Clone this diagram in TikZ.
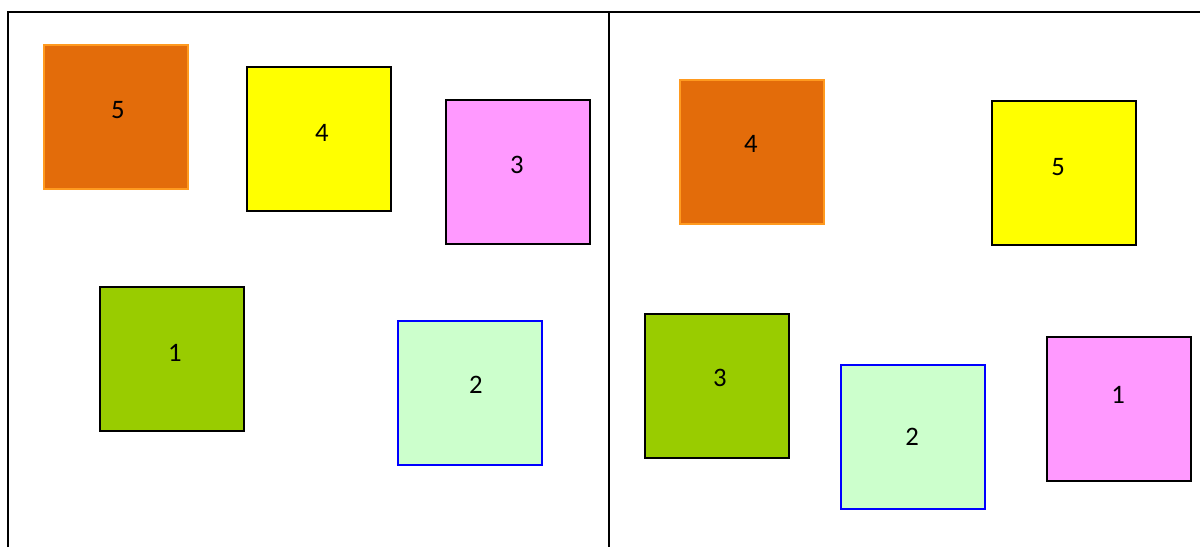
\documentclass[tikz,border=0pt]{standalone}
\usepackage{fontspec}
\setmainfont{Carlito}
\definecolor{orfill}{HTML}{E36C0A}
\definecolor{ordraw}{HTML}{FF9A1F}
\definecolor{yel}{HTML}{FFFF00}
\definecolor{pinkc}{HTML}{FF99FF}
\definecolor{grn}{HTML}{99CC00}
\definecolor{lgrn}{HTML}{CCFFCC}
\definecolor{blu}{HTML}{0000FF}
\tikzset{
  sq/.style={minimum width=108pt, minimum height=108pt, inner sep=0pt, line width=1.5pt, draw=black},
  orangebox/.style={sq, fill=orfill, draw=ordraw},
  yellowbox/.style={sq, fill=yel},
  pinkbox/.style={sq, fill=pinkc},
  greenbox/.style={sq, fill=grn},
  lgreenbox/.style={sq, fill=lgrn, draw=blu},
  num/.style={font=\fontsize{20pt}{24pt}\selectfont, inner sep=0pt},
  frame/.style={line width=1.6pt, draw=black}
}
\begin{document}
\begin{tikzpicture}[x=0.75pt,y=-0.75pt]
\useasboundingbox (0,0) rectangle (1200,547);
% frame
\coordinate (fbl) at (8,547);
\coordinate (ftl) at (8,12);
\coordinate (ftr) at (1200,12);
\coordinate (dtop) at (609,12);
\coordinate (dbot) at (609,547);
\draw[frame] (fbl) -- (ftl) -- (ftr);
\draw[frame] (dtop) -- (dbot);
% left panel
\node[orangebox] (L5) at (116,116.5) {};
\node[num] (t L5) at (118,110) {5};
\node[yellowbox] (L4) at (319,139) {};
\node[num] (t L4) at (322,133) {4};
\node[pinkbox] (L3) at (518,172) {};
\node[num] (t L3) at (517,165) {3};
\node[greenbox] (L1) at (172,359) {};
\node[num] (t L1) at (175,353) {1};
\node[lgreenbox] (L2) at (470,393) {};
\node[num] (t L2) at (476,385) {2};
% right panel
\node[orangebox] (R4) at (752,152) {};
\node[num] (t R4) at (751,144) {4};
\node[yellowbox] (R5) at (1064,173) {};
\node[num] (t R5) at (1058,167) {5};
\node[greenbox] (R3) at (717,386) {};
\node[num] (t R3) at (720,378) {3};
\node[lgreenbox] (R2) at (913,437) {};
\node[num] (t R2) at (912,437) {2};
\node[pinkbox] (R1) at (1119,409) {};
\node[num] (t R1) at (1118,395) {1};
\end{tikzpicture}
\end{document}
